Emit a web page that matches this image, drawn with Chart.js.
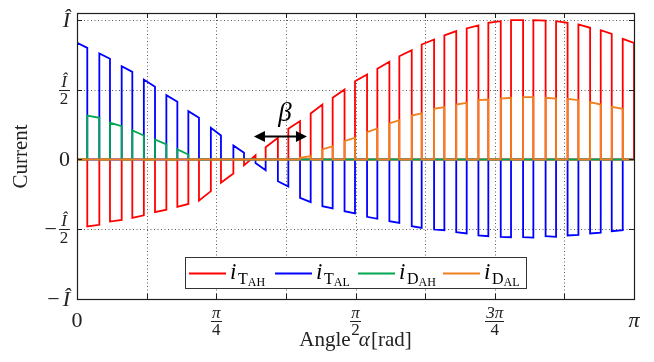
<!DOCTYPE html>
<html>
<head>
<meta charset="utf-8">
<script src="https://cdn.jsdelivr.net/npm/chart.js@4.4.1/dist/chart.umd.min.js"></script>
<style>
  html, body { margin: 0; padding: 0; background: #fff; }
  #wrap { width: 654px; height: 362px; position: relative; }
</style>
</head>
<body>
<div id="wrap"><canvas id="chart"></canvas></div>
<script>
// Switching period boundaries [rad]
const periodStart = [0, 0.126, 0.252, 0.377, 0.504, 0.628, 0.755, 0.882, 1.007, 1.133, 1.258, 1.384, 1.509,
    1.636, 1.762, 1.888, 2.014, 2.139, 2.264, 2.390, 2.516, 2.643, 2.767, 2.894, 3.016, Math.PI];
// Instant where conduction moves from the low side to the high side
const switchAt = [0.058, 0.186, 0.312, 0.440, 0.566, 0.688, 0.812, 0.942, 1.064, 1.192, 1.318, 1.442, 1.568,
    1.694, 1.818, 1.944, 2.072, 2.198, 2.320, 2.448, 2.574, 2.702, 2.828, 2.954, 3.078];

// Currents (per unit of I-hat) at start / end of each conduction interval
const tALStart = [0.836, 0.760, 0.669, 0.573, 0.461, 0.346, 0.227, 0.100, -0.025, -0.156, -0.275, -0.335, -0.371,
    -0.411, -0.442, -0.478, -0.502, -0.521, -0.545, -0.554, -0.557, -0.550, -0.545, -0.530, -0.514];
const tALEnd = [0.800, 0.722, 0.628, 0.521, 0.414, 0.299, 0.172, 0.048, -0.077, -0.194, -0.306, -0.351, -0.387,
    -0.425, -0.454, -0.490, -0.507, -0.530, -0.550, -0.557, -0.560, -0.554, -0.540, -0.525, -0.507];
const tAHStart = [-0.480, -0.445, -0.418, -0.378, -0.339, -0.295, -0.167, -0.042, 0.088, 0.220, 0.330, 0.442, 0.561,
    0.650, 0.740, 0.824, 0.889, 0.939, 0.980, 0.999, 0.999, 0.991, 0.968, 0.927, 0.865];
const tAHEnd = [-0.468, -0.433, -0.400, -0.360, -0.319, -0.227, -0.101, 0.030, 0.156, 0.275, 0.394, 0.502, 0.609,
    0.700, 0.784, 0.860, 0.920, 0.961, 0.991, 0.999, 0.996, 0.980, 0.944, 0.901, 0.836];
const dAHStart = [0.315, 0.263, 0.208, 0.143, 0.072, 0, 0, 0, 0, 0, 0, 0, 0, 0, 0, 0, 0, 0, 0, 0, 0, 0, 0, 0, 0];
const dAHEnd = [0.299, 0.239, 0.172, 0.108, 0.036, 0, 0, 0, 0, 0, 0, 0, 0, 0, 0, 0, 0, 0, 0, 0, 0, 0, 0, 0, 0];
const dALStart = [0, 0, 0, 0, 0, 0, 0, 0, 0, 0, 0.012, 0.072, 0.131, 0.196, 0.258, 0.315, 0.363, 0.394, 0.425,
    0.437, 0.447, 0.442, 0.435, 0.411, 0.378];
const dALEnd = [0, 0, 0, 0, 0, 0, 0, 0, 0, 0, 0.025, 0.095, 0.156, 0.222, 0.282, 0.330, 0.375, 0.406, 0.430,
    0.442, 0.447, 0.437, 0.425, 0.394, 0.363];

// Axis ticks
const xGrid = [Math.PI / 8, Math.PI / 4, 3 * Math.PI / 8, Math.PI / 2, 5 * Math.PI / 8, 3 * Math.PI / 4, 7 * Math.PI / 8];
const xLabels = [
    { v: 0, text: '0' },
    { v: Math.PI / 4, num: 'π', den: '4' },
    { v: Math.PI / 2, num: 'π', den: '2' },
    { v: 3 * Math.PI / 4, num: '3π', den: '4' },
    { v: Math.PI, text: 'π', italic: true }
];
const yGrid = [-0.5, 0, 0.5, 1];
const yLabels = [
    { v: 1, text: 'Î' },
    { v: 0.5, num: 'Î', den: '2' },
    { v: 0, text: '0', roman: true },
    { v: -0.5, num: 'Î', den: '2', minus: true },
    { v: -1, text: 'Î', minus: true }
];

const seriesNames = [['i', 'T', 'AH'], ['i', 'T', 'AL'], ['i', 'D', 'AH'], ['i', 'D', 'AL']];
const seriesColors = ['#ff0000', '#0000ff', '#00a650', '#f07f1c'];

const SERIF = '"Liberation Serif", "DejaVu Serif", serif';

// one trace: zero baseline with a trapezoid for every conduction interval
function pulses(t0s, t1s, y0s, y1s) {
    const pts = [{ x: 0, y: 0 }];
    for (let k = 0; k < y0s.length; k++) {
        if (y0s[k] === 0 && y1s[k] === 0) continue;
        pts.push({ x: t0s[k], y: 0 }, { x: t0s[k], y: y0s[k] }, { x: t1s[k], y: y1s[k] }, { x: t1s[k], y: 0 });
    }
    pts.push({ x: Math.PI, y: 0 });
    return pts;
}

const highStart = switchAt;
const highEnd = periodStart.slice(1);
const lowStart = periodStart.slice(0, 25);
const lowEnd = switchAt;

function lineSet(data, color, order) {
    return {
        data: data,
        borderColor: color,
        borderWidth: 1.8,
        pointRadius: 0,
        tension: 0,
        fill: false,
        order: order
    };
}

function drawFraction(ctx, cx, barY, num, den, numItalic, size) {
    ctx.textAlign = 'center';
    ctx.textBaseline = 'alphabetic';
    ctx.font = (numItalic ? 'italic ' : '') + size + 'px ' + SERIF;
    const wNum = ctx.measureText(num).width;
    ctx.fillText(num, cx, barY - 3);
    ctx.font = size + 'px ' + SERIF;
    const wDen = ctx.measureText(den).width;
    ctx.fillText(den, cx, barY + Math.round(size * 0.8));
    const w = Math.max(wNum, wDen) + 2;
    ctx.fillRect(Math.round(cx - w / 2), Math.round(barY), Math.round(w), 1);
}

const decorPlugin = {
    id: 'decor',
    beforeDatasetsDraw(chart) {
        const { ctx, chartArea: a, scales: { x, y } } = chart;
        ctx.save();
        ctx.strokeStyle = '#5a5a5a';
        ctx.lineWidth = 1;
        ctx.setLineDash([1, 2.5]);
        xGrid.forEach(function (v) {
            const px = Math.round(x.getPixelForValue(v)) + 0.5;
            ctx.beginPath(); ctx.moveTo(px, a.top); ctx.lineTo(px, a.bottom); ctx.stroke();
        });
        yGrid.forEach(function (v) {
            const py = Math.round(y.getPixelForValue(v)) + 0.5;
            ctx.beginPath(); ctx.moveTo(a.left, py); ctx.lineTo(a.right, py); ctx.stroke();
        });
        ctx.restore();
    },
    afterDraw(chart) {
        const { ctx, chartArea: a, scales: { x, y } } = chart;
        ctx.save();

        // frame and inward tick marks
        ctx.strokeStyle = '#1e1e1e';
        ctx.lineWidth = 1.2;
        ctx.strokeRect(Math.round(a.left) + 0.5, Math.round(a.top) + 0.5,
            Math.round(a.right - a.left), Math.round(a.bottom - a.top));
        ctx.lineWidth = 1;
        ctx.beginPath();
        xGrid.forEach(function (v) {
            const px = Math.round(x.getPixelForValue(v)) + 0.5;
            ctx.moveTo(px, a.top); ctx.lineTo(px, a.top + 5);
            ctx.moveTo(px, a.bottom); ctx.lineTo(px, a.bottom - 5);
        });
        yGrid.forEach(function (v) {
            const py = Math.round(y.getPixelForValue(v)) + 0.5;
            ctx.moveTo(a.left, py); ctx.lineTo(a.left + 5, py);
            ctx.moveTo(a.right, py); ctx.lineTo(a.right - 5, py);
        });
        ctx.stroke();

        ctx.fillStyle = '#222';

        // x tick labels
        xLabels.forEach(function (t) {
            const px = x.getPixelForValue(t.v);
            if (t.num) {
                drawFraction(ctx, px, 321, t.num, t.den, true, 17);
            } else {
                ctx.textAlign = 'center';
                ctx.textBaseline = 'alphabetic';
                ctx.font = (t.italic ? 'italic ' : '') + '22px ' + SERIF;
                ctx.fillText(t.text, px, 327);
            }
        });

        // y tick labels
        yLabels.forEach(function (t) {
            const py = y.getPixelForValue(t.v);
            let right = 69;
            if (t.num) {
                drawFraction(ctx, 64, Math.round(py), t.num, t.den, true, 17);
                right = 57;
            } else {
                ctx.textAlign = 'right';
                ctx.textBaseline = 'alphabetic';
                ctx.font = (t.roman ? '' : 'italic ') + '22px ' + SERIF;
                ctx.fillText(t.text, 70, py + 7);
                right = 70 - ctx.measureText(t.text).width - 3;
            }
            if (t.minus) {
                ctx.textAlign = 'right';
                ctx.font = '22px ' + SERIF;
                ctx.fillText('−', right, py + 7);
            }
        });

        // axis titles
        ctx.textBaseline = 'alphabetic';
        ctx.textAlign = 'left';
        ctx.font = '21px ' + SERIF;
        const w1 = ctx.measureText('Angle ').width + 3;
        const w3 = ctx.measureText('[rad]').width;
        ctx.font = 'italic 21px ' + SERIF;
        const w2 = ctx.measureText('α').width + 1;
        let tx = x.getPixelForValue(Math.PI / 2) - (w1 + w2 + w3) / 2;
        ctx.font = '21px ' + SERIF;
        ctx.fillText('Angle ', tx, 346);
        ctx.font = 'italic 21px ' + SERIF;
        ctx.fillText('α', tx + w1, 346);
        ctx.font = '21px ' + SERIF;
        ctx.fillText('[rad]', tx + w1 + w2, 346);

        ctx.save();
        ctx.translate(27, y.getPixelForValue(0) - 3);
        ctx.rotate(-Math.PI / 2);
        ctx.textAlign = 'center';
        ctx.font = '21px ' + SERIF;
        ctx.fillText('Current', 0, 0);
        ctx.restore();

        // beta annotation with double arrow
        ctx.fillStyle = '#000';
        ctx.textAlign = 'center';
        ctx.font = 'italic 27px ' + SERIF;
        ctx.fillText('β', x.getPixelForValue(1.173), y.getPixelForValue(0.275));
        const ax0 = x.getPixelForValue(0.998), ax1 = x.getPixelForValue(1.297);
        const ay = Math.round(y.getPixelForValue(0.17)) + 0.5;
        ctx.strokeStyle = '#000';
        ctx.lineWidth = 2;
        ctx.beginPath(); ctx.moveTo(ax0 + 8, ay); ctx.lineTo(ax1 - 8, ay); ctx.stroke();
        ctx.beginPath();
        ctx.moveTo(ax0, ay); ctx.lineTo(ax0 + 11, ay - 5.5); ctx.lineTo(ax0 + 11, ay + 5.5); ctx.closePath();
        ctx.moveTo(ax1, ay); ctx.lineTo(ax1 - 11, ay - 5.5); ctx.lineTo(ax1 - 11, ay + 5.5); ctx.closePath();
        ctx.fill();

        // legend
        const lx = 185.5, ly = 257.5, lw = 341, lh = 31;
        ctx.fillStyle = '#fff';
        ctx.fillRect(lx, ly, lw, lh);
        ctx.strokeStyle = '#333';
        ctx.lineWidth = 1;
        ctx.strokeRect(lx, ly, lw, lh);
        const itemX = [189, 275, 358, 443];
        seriesNames.forEach(function (parts, i) {
            const x0 = itemX[i];
            ctx.strokeStyle = seriesColors[i];
            ctx.lineWidth = 1.8;
            ctx.beginPath(); ctx.moveTo(x0, 273.5); ctx.lineTo(x0 + 37, 273.5); ctx.stroke();
            ctx.fillStyle = '#000';
            ctx.textAlign = 'left';
            ctx.font = 'italic 23px ' + SERIF;
            ctx.fillText(parts[0], x0 + 41, 279);
            ctx.font = '16px ' + SERIF;
            const tx0 = x0 + 49;
            ctx.fillText(parts[1], tx0, 284);
            const wT = ctx.measureText(parts[1]).width;
            ctx.font = '12px ' + SERIF;
            ctx.fillText(parts[2], tx0 + wT, 286);
        });

        ctx.restore();
    }
};

new Chart(document.getElementById('chart'), {
    type: 'line',
    data: {
        datasets: [
            lineSet(pulses(highStart, highEnd, tAHStart, tAHEnd), seriesColors[0], 4),
            lineSet(pulses(lowStart, lowEnd, tALStart, tALEnd), seriesColors[1], 3),
            lineSet(pulses(highStart, highEnd, dAHStart, dAHEnd), seriesColors[2], 2),
            lineSet(pulses(lowStart, lowEnd, dALStart, dALEnd), seriesColors[3], 1)
        ]
    },
    options: {
        responsive: true,
        maintainAspectRatio: false,
        devicePixelRatio: 1,
        animation: false,
        layout: { padding: { left: 77, top: 13, right: 20, bottom: 63 } },
        plugins: {
            legend: { display: false },
            tooltip: { enabled: false }
        },
        scales: {
            x: { type: 'linear', min: 0, max: Math.PI, display: false },
            y: { type: 'linear', min: -1, max: 1.05, display: false }
        }
    },
    plugins: [decorPlugin]
});
</script>
</body>
</html>
